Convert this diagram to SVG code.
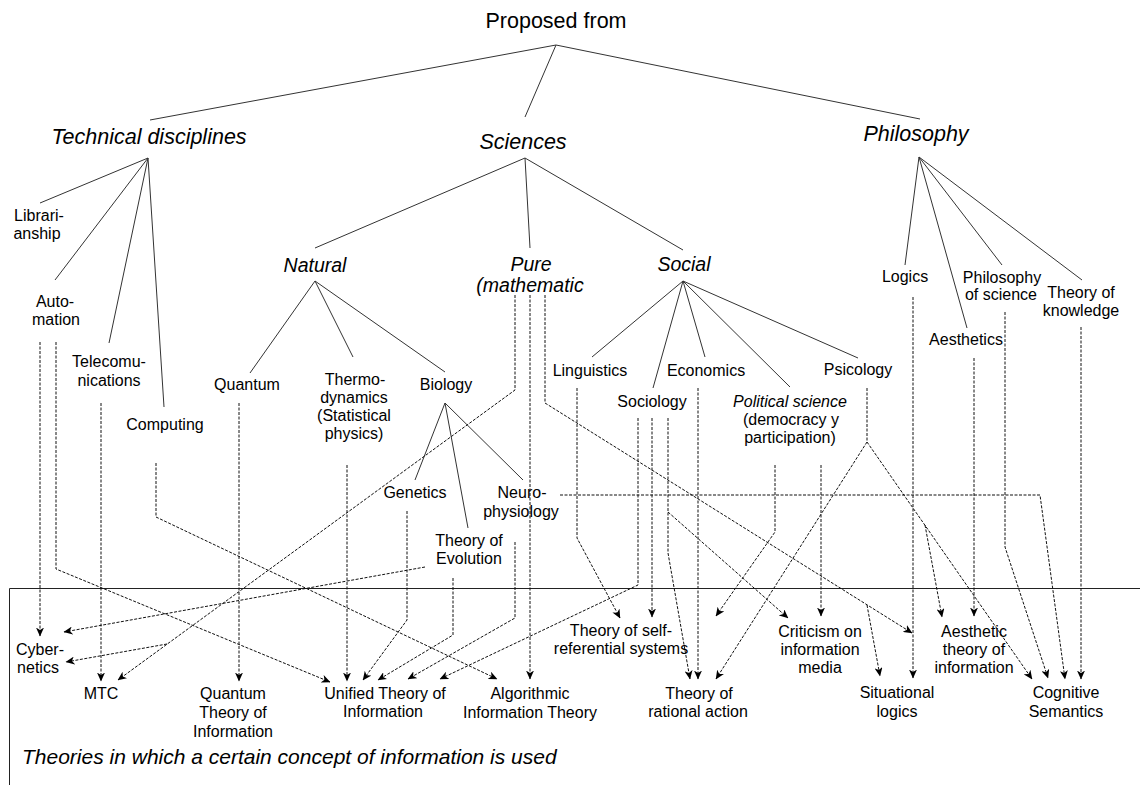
<svg xmlns="http://www.w3.org/2000/svg" width="1140" height="785" viewBox="0 0 1140 785">
<defs>
<marker id="ah" viewBox="0 0 9 8" refX="8.5" refY="4" markerWidth="9" markerHeight="8" markerUnits="userSpaceOnUse" orient="auto">
<path d="M0,0 L9,4 L0,8 L2.5,4 z" fill="#000"/>
</marker>
<style>
text{font-family:"Liberation Sans",Arial,Helvetica,sans-serif;fill:#000;text-anchor:middle}
.t{font-size:16px}
.h{font-size:21.5px}
.s{font-size:19.5px;font-style:italic}
.i{font-style:italic}
.tree path{fill:none;stroke:#333;stroke-width:1}
.dash path{fill:none;stroke:#111;stroke-width:1;stroke-dasharray:3 1.5}
.dash path.a{marker-end:url(#ah)}
.frame{fill:none;stroke:#222;stroke-width:1}
</style>
</defs>
<rect width="1140" height="785" fill="#fff"/>

<g id="frame"><path class="frame" d="M9.5,588.5 H1140 M9.5,588.5 V785"/></g>

<g id="tree" class="tree">
<path d="M556,45 L150,120 M556,45 L525,117 M556,45 L920,119"/>
<path d="M148,158 L40,203 M148,158 L55,280 M148,158 L109,343 M148,158 L164,407"/>
<path d="M525,158 L315,248 M525,158 L530,248 M525,158 L683,250"/>
<path d="M315,281 L250,373 M315,281 L353,357 M315,281 L445,372"/>
<path d="M683,281 L592,357 M683,281 L653,388 M683,281 L705,357 M683,281 L790,387 M683,281 L858,358"/>
<path d="M445,403 L415,480 M445,403 L468,528 M445,403 L523,480"/>
<path d="M919,157 L905,265 M919,157 L967,328 M919,157 L1002,265 M919,157 L1082,280"/>
</g>

<g id="connectors" class="dash">
<path class="a" d="M40,342 V636"/>
<path class="a" d="M56,342 V569 L330,682"/>
<path class="a" d="M101,403 V681"/>
<path class="a" d="M156,463 V517 L497,679"/>
<path class="a" d="M239,403 V681"/>
<path class="a" d="M347,465 V681"/>
<path class="a" d="M515,295 V390 L118,680"/>
<path class="a" d="M167,644 L66,662"/>
<path class="a" d="M530,295 V679"/>
<path class="a" d="M545,295 V403 L912,633"/>
<path class="a" d="M867,605 L880,676"/>
<path class="a" d="M560,495 H1040 L1065,679"/>
<path class="a" d="M407,511 V620 L363,680"/>
<path class="a" d="M453,578 V635 L378,680"/>
<path class="a" d="M425,567 L64,632"/>
<path class="a" d="M515,542 V618 L408,679"/>
<path class="a" d="M577,388 V538 L620,618"/>
<path class="a" d="M638,418 V585 L440,679"/>
<path class="a" d="M652,418 V617"/>
<path class="a" d="M668,418 V553 L690,679"/>
<path class="a" d="M668,512 L788,618"/>
<path class="a" d="M698,388 V679"/>
<path class="a" d="M775,465 V532 L716,616"/>
<path class="a" d="M821,465 V616"/>
<path class="a" d="M867,388 V442 L716,679"/>
<path class="a" d="M867,442 L1032,679"/>
<path class="a" d="M925,525 L942,617"/>
<path class="a" d="M913,297 V678"/>
<path class="a" d="M974,358 V616"/>
<path class="a" d="M1005,312 V547 L1048,678"/>
<path class="a" d="M1081,327 V679"/>
</g>

<g id="proposed"><text class="h" x="556" y="28">Proposed from</text></g>
<g id="technical"><text class="h i" x="149" y="144">Technical disciplines</text></g>
<g id="sciences"><text class="h i" x="523" y="149">Sciences</text></g>
<g id="philosophy"><text class="h i" x="916" y="141">Philosophy</text></g>

<g id="librarianship"><text class="t" x="39" y="221">Librari-</text><text class="t" x="37" y="239">anship</text></g>
<g id="automation"><text class="t" x="55" y="307">Auto-</text><text class="t" x="56" y="325">mation</text></g>
<g id="telecom"><text class="t" x="109" y="367">Telecomu-</text><text class="t" x="109" y="386">nications</text></g>
<g id="computing"><text class="t" x="165" y="430">Computing</text></g>

<g id="natural"><text class="s" x="315" y="272">Natural</text></g>
<g id="pure"><text class="s" x="531" y="271">Pure</text><text class="s" x="530" y="292">(mathematic</text></g>
<g id="social"><text class="s" x="684" y="271">Social</text></g>

<g id="quantum"><text class="t" x="247" y="390">Quantum</text></g>
<g id="thermo"><text class="t" x="355" y="385">Thermo-</text><text class="t" x="354" y="403">dynamics</text><text class="t" x="354" y="421">(Statistical</text><text class="t" x="354" y="439">physics)</text></g>
<g id="biology"><text class="t" x="446" y="390">Biology</text></g>
<g id="genetics"><text class="t" x="415" y="498">Genetics</text></g>
<g id="neuro"><text class="t" x="522" y="498">Neuro-</text><text class="t" x="521" y="517">physiology</text></g>
<g id="evolution"><text class="t" x="469" y="546">Theory of</text><text class="t" x="469" y="564">Evolution</text></g>

<g id="linguistics"><text class="t" x="590" y="376">Linguistics</text></g>
<g id="sociology"><text class="t" x="652" y="407">Sociology</text></g>
<g id="economics"><text class="t" x="706" y="376">Economics</text></g>
<g id="political"><text class="t i" x="790" y="407">Political science</text><text class="t" x="791" y="425">(democracy y</text><text class="t" x="790" y="443">participation)</text></g>
<g id="psicology"><text class="t" x="858" y="375">Psicology</text></g>

<g id="logics"><text class="t" x="905" y="282">Logics</text></g>
<g id="philsci"><text class="t" x="1002" y="283">Philosophy</text><text class="t" x="1001" y="300">of science</text></g>
<g id="knowledge"><text class="t" x="1081" y="298">Theory of</text><text class="t" x="1081" y="316">knowledge</text></g>
<g id="aesthetics"><text class="t" x="966" y="345">Aesthetics</text></g>

<g id="cybernetics"><text class="t" x="40" y="655">Cyber-</text><text class="t" x="38" y="673">netics</text></g>
<g id="mtc"><text class="t" x="101" y="699">MTC</text></g>
<g id="qti"><text class="t" x="233" y="699">Quantum</text><text class="t" x="233" y="718">Theory of</text><text class="t" x="233" y="737">Information</text></g>
<g id="uti"><text class="t" x="385" y="699">Unified Theory of</text><text class="t" x="383" y="717">Information</text></g>
<g id="ait"><text class="t" x="530" y="699">Algorithmic</text><text class="t" x="530" y="718">Information Theory</text></g>
<g id="selfref"><text class="t" x="621" y="636">Theory of self-</text><text class="t" x="621" y="654">referential systems</text></g>
<g id="rational"><text class="t" x="699" y="699">Theory of</text><text class="t" x="698" y="717">rational action</text></g>
<g id="criticism"><text class="t" x="820" y="637">Criticism on</text><text class="t" x="820" y="655">information</text><text class="t" x="820" y="673">media</text></g>
<g id="situational"><text class="t" x="897" y="698">Situational</text><text class="t" x="897" y="717">logics</text></g>
<g id="aesthetic-theory"><text class="t" x="974" y="637">Aesthetic</text><text class="t" x="974" y="655">theory of</text><text class="t" x="974" y="673">information</text></g>
<g id="cognitive"><text class="t" x="1066" y="698">Cognitive</text><text class="t" x="1066" y="717">Semantics</text></g>

<g id="caption"><text class="i" x="22" y="764" style="font-size:21px;text-anchor:start">Theories in which a certain concept of information is used</text></g>
</svg>
